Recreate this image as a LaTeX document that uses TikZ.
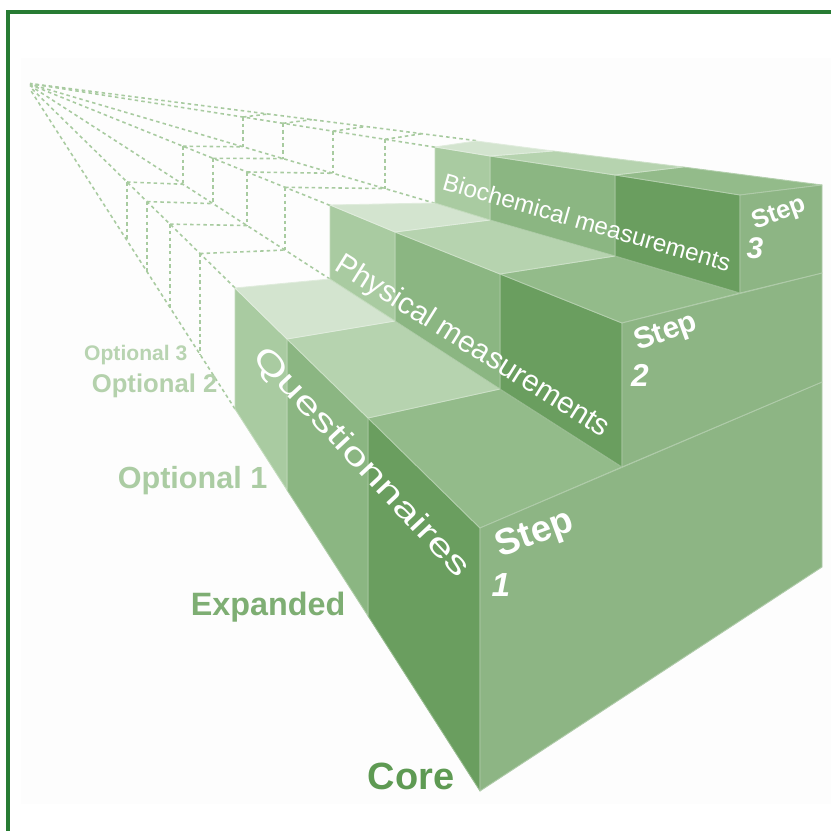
\documentclass[tikz,border=0pt]{standalone}
\usepackage{fontspec}
\setmainfont{Liberation Sans}
\usetikzlibrary{calc}

\definecolor{frameGreen}{HTML}{277B33}
\definecolor{sideCore}{HTML}{6A9E5F}
\definecolor{sideExp}{HTML}{8BB682}
\definecolor{sideOpt}{HTML}{A9CBA1}
\definecolor{topCore}{HTML}{93BB8A}
\definecolor{topExp}{HTML}{B6D3AF}
\definecolor{topOpt}{HTML}{D3E4CF}
\definecolor{frontFace}{HTML}{8DB584}
\definecolor{ghostLine}{HTML}{A8CBA0}
\definecolor{coreText}{HTML}{5E9A53}
\definecolor{expText}{HTML}{7EAE73}
\definecolor{optText}{HTML}{ABCCA3}

\tikzset{
    face/.style={fill=#1, draw=white!30!#1, line width=0.25pt, line join=round},
    ghost/.style={draw=ghostLine, line width=0.45pt, dash pattern=on 1pt off 0.9pt},
    tierlabel/.style 2 args={text=#1, inner sep=0pt, font=\fontsize{#2}{#2}\selectfont\bfseries},
    blockname/.style={text=white, inner sep=0pt, font=\fontsize{#1}{#1}\selectfont},
    stepword/.style={text=white, inner sep=0pt, font=\fontsize{#1}{#1}\selectfont\bfseries, rotate=20},
    stepnum/.style={text=white, inner sep=0pt, font=\fontsize{#1}{#1}\selectfont\bfseries\itshape}
}

\begin{document}
\begin{tikzpicture}[x=0.1mm, y=-0.1mm]
    \useasboundingbox (0,0) rectangle (831,831);
    \fill[black!0.7] (21,58) rectangle (831,804);
    \draw[frameGreen, line width=0.9pt] (8,845) -- (8,12) -- (845,12);

    % edge lines of the three tiers, all running back to (26,83)
    \def\topA#1{83+0.9802*(#1-26)}
    \def\botA#1{83+1.5595*(#1-26)}
    \def\topB#1{83+0.4027*(#1-26)}
    \def\botB#1{83+0.6450*(#1-26)}
    \def\topC#1{83+0.1569*(#1-26)}
    \def\botC#1{83+0.2941*(#1-26)}
    \def\rimC#1{83+0.1281*(#1-26)}

    % dashed extensions behind the blocks
    \foreach \xa/\xb/\xc/\xd in {200/285/385/422, 170/247/333/366, 147/213/283/312, 127/183/243/268}{
        \draw[ghost] (\xa,{\topA{\xa}}) -- (\xa,{\botA{\xa}});
        \draw[ghost] (\xb,{\topB{\xb}}) -- (\xb,{\botB{\xb}});
        \draw[ghost] (\xc,{\topC{\xc}}) -- (\xc,{\botC{\xc}});
        \draw[ghost] (\xa,{\topA{\xa}}) -- (\xb,{\botB{\xb}});
        \draw[ghost] (\xb,{\topB{\xb}}) -- (\xc,{\botC{\xc}});
        \draw[ghost] (\xc,{\topC{\xc}}) -- (\xd,{\rimC{\xd}});
    }
    \draw[ghost] (235,{\topA{235}}) -- (30,{\topA{30}});
    \draw[ghost] (235,{\botA{235}}) -- (30,{\botA{30}});
    \draw[ghost] (330,{\topB{330}}) -- (30,{\topB{30}});
    \draw[ghost] (330,{\botB{330}}) -- (30,{\botB{30}});
    \draw[ghost] (435,{\topC{435}}) -- (30,{\topC{30}});
    \draw[ghost] (435,{\botC{435}}) -- (30,{\botC{30}});
    \draw[ghost] (476,{\rimC{476}}) -- (30,{\rimC{30}});

    % tier 1
    \coordinate (s1t0) at (480,528);
    \coordinate (s1t1) at (368,418);
    \coordinate (s1t2) at (287,339);
    \coordinate (s1t3) at (235,288);
    \coordinate (s1b0) at (480,791);
    \coordinate (s1b1) at (368,616);
    \coordinate (s1b2) at (287,490);
    \coordinate (s1b3) at (235,409);
    \coordinate (r1t) at (822,382);
    \coordinate (r1b) at (822,567);
    % tier 2
    \coordinate (s2t0) at (622,323);
    \coordinate (s2t1) at (500,274);
    \coordinate (s2t2) at (395,232);
    \coordinate (s2t3) at (330,205);
    \coordinate (s2b0) at (622,467);
    \coordinate (s2b1) at (500,389);
    \coordinate (s2b2) at (395,321);
    \coordinate (s2b3) at (330,279);
    \coordinate (r2t) at (822,273);
    % tier 3
    \coordinate (s3t0) at (740,195);
    \coordinate (s3t1) at (615,175);
    \coordinate (s3t2) at (490,156);
    \coordinate (s3t3) at (435,147);
    \coordinate (s3b0) at (740,293);
    \coordinate (s3b1) at (615,256);
    \coordinate (s3b2) at (490,220);
    \coordinate (s3b3) at (435,203);
    \coordinate (r3t) at (822,185);
    \coordinate (k3t1) at (683,167);
    \coordinate (k3t2) at (553,151);
    \coordinate (k3t3) at (476,141);

    \path[face=sideCore] (s1t0) -- (s1t1) -- (s1b1) -- (s1b0) -- cycle;
    \path[face=sideExp] (s1t1) -- (s1t2) -- (s1b2) -- (s1b1) -- cycle;
    \path[face=sideOpt] (s1t2) -- (s1t3) -- (s1b3) -- (s1b2) -- cycle;
    \path[face=topCore] (s1t0) -- (s2b0) -- (s2b1) -- (s1t1) -- cycle;
    \path[face=topExp] (s1t1) -- (s2b1) -- (s2b2) -- (s1t2) -- cycle;
    \path[face=topOpt] (s1t2) -- (s2b2) -- (s2b3) -- (s1t3) -- cycle;
    \path[face=frontFace] (s1t0) -- (r1t) -- (r1b) -- (s1b0) -- cycle;

    \path[face=sideCore] (s2t0) -- (s2t1) -- (s2b1) -- (s2b0) -- cycle;
    \path[face=sideExp] (s2t1) -- (s2t2) -- (s2b2) -- (s2b1) -- cycle;
    \path[face=sideOpt] (s2t2) -- (s2t3) -- (s2b3) -- (s2b2) -- cycle;
    \path[face=topCore] (s2t0) -- (s3b0) -- (s3b1) -- (s2t1) -- cycle;
    \path[face=topExp] (s2t1) -- (s3b1) -- (s3b2) -- (s2t2) -- cycle;
    \path[face=topOpt] (s2t2) -- (s3b2) -- (s3b3) -- (s2t3) -- cycle;
    \path[face=frontFace] (s2t0) -- (r2t) -- (r1t) -- (s2b0) -- cycle;

    \path[face=sideCore] (s3t0) -- (s3t1) -- (s3b1) -- (s3b0) -- cycle;
    \path[face=sideExp] (s3t1) -- (s3t2) -- (s3b2) -- (s3b1) -- cycle;
    \path[face=sideOpt] (s3t2) -- (s3t3) -- (s3b3) -- (s3b2) -- cycle;
    \path[face=topCore] (s3t0) -- (r3t) -- (k3t1) -- (s3t1) -- cycle;
    \path[face=topExp] (s3t1) -- (k3t1) -- (k3t2) -- (s3t2) -- cycle;
    \path[face=topOpt] (s3t2) -- (k3t2) -- (k3t3) -- (s3t3) -- cycle;
    \path[face=frontFace] (s3t0) -- (r3t) -- (r2t) -- (s3b0) -- cycle;

    % names on the blocks
    \node[blockname=9, rotate=-47, xscale=1.42] (quest) at (361,463) {Questionnaires};
    \node[blockname=8.5, rotate=-32] (phys) at (472,347) {Physical measurements};
    \node[blockname=6.9, rotate=-16] (bioc) at (587,222) {Biochemical measurements};

    \node[stepword=10.5] (step1) at (535,535) {Step};
    \node[stepnum=9.5] (num1) at (501,585) {1};
    \node[stepword=8.5] (step2) at (666,333) {Step};
    \node[stepnum=9] (num2) at (640,375) {2};
    \node[stepword=7.3] (step3) at (779,214) {Step};
    \node[stepnum=8.5] (num3) at (755,248) {3};

    % depth levels
    \node[tierlabel={coreText}{10.8}, anchor=east] (core) at (455,776) {Core};
    \node[tierlabel={expText}{9.2}, anchor=east] (expd) at (346,607) {Expanded};
    \node[tierlabel={optText}{8.7}, anchor=east] (opt1) at (268,481) {Optional 1};
    \node[tierlabel={optText!90!white}{7.3}, anchor=east] (opt2) at (218,386) {Optional 2};
    \node[tierlabel={optText!85!white}{6}, anchor=east] (opt3) at (188,355) {Optional 3};
\end{tikzpicture}
\end{document}
